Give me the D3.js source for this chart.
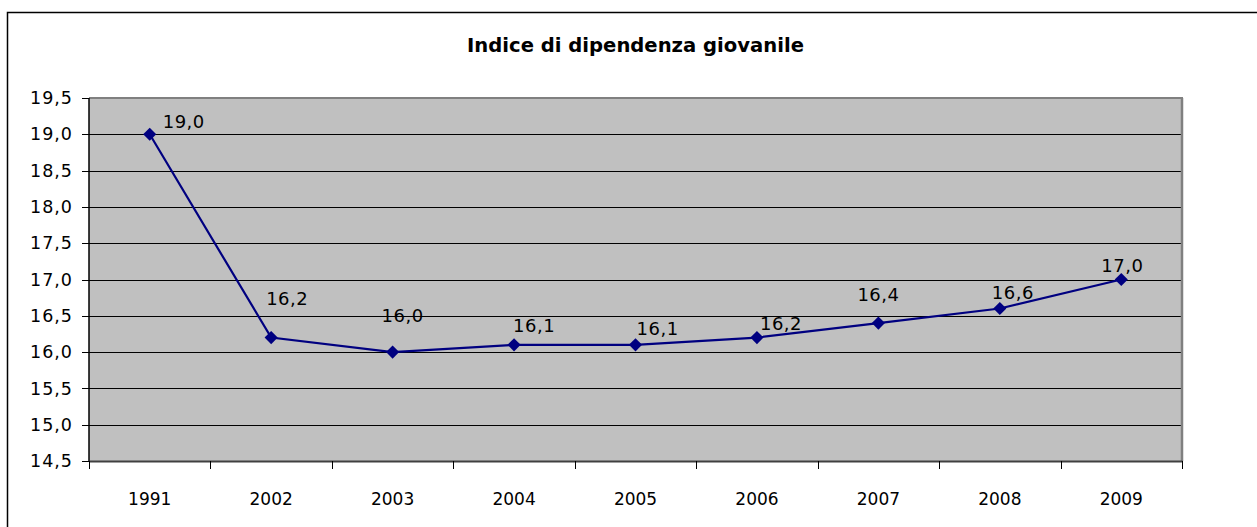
<!DOCTYPE html>
<html>
<head>
<meta charset="utf-8">
<script src="https://cdn.jsdelivr.net/npm/d3@7"></script>
<style>
  html, body { margin: 0; padding: 0; background: #fff; }
  svg { display: block; font-family: 'DejaVu Sans', sans-serif; }
</style>
</head>
<body>
<svg></svg>
<script>
// categories and values
const years = ['1991', '2002', '2003', '2004', '2005', '2006', '2007', '2008', '2009'];
const values = [19.0, 16.2, 16.0, 16.1, 16.1, 16.2, 16.4, 16.6, 17.0];
const yTicks = [14.5, 15.0, 15.5, 16.0, 16.5, 17.0, 17.5, 18.0, 18.5, 19.0, 19.5];

// hand placed data labels (offset from the point, text start / baseline)
const labelOffsets = [[13, -6], [-5, -33], [-11, -30], [-1, -13], [1, -10], [3, -8], [-21, -22], [-8, -10], [-20, -8]];

const width = 1257;
const height = 527;
const plot = { left: 89, right: 1182, top: 98, bottom: 461 };

const fmt = (v) => d3.format('.1f')(v).replace('.', ',');

const svg = d3.select('svg')
              .attr('width', width)
              .attr('height', height);

// chart frame (runs past the right and bottom edges)
svg.append('rect')
    .attr('x', 7.5)
    .attr('y', 12.5)
    .attr('width', 1300)
    .attr('height', 600)
    .attr('fill', '#fff')
    .attr('stroke', '#000')
    .attr('stroke-width', 1.5);

const xScale = d3.scaleBand()
                 .domain(years)
                 .range([plot.left, plot.right]);

const yScale = d3.scaleLinear()
                 .domain([14.5, 19.5])
                 .range([plot.bottom, plot.top]);

// plot area
svg.append('rect')
    .attr('x', plot.left)
    .attr('y', plot.top)
    .attr('width', plot.right - plot.left)
    .attr('height', plot.bottom - plot.top)
    .attr('fill', '#c0c0c0');

const yAxis = d3.axisLeft(yScale)
                .tickValues(yTicks)
                .tickFormat(fmt)
                .tickSizeInner(-(plot.right - plot.left))
                .tickSizeOuter(0)
                .tickPadding(10);

const gy = svg.append('g')
    .attr('transform', `translate(${plot.left}, 0)`)
    .call(yAxis);

gy.select('.domain').remove();
gy.selectAll('.tick line')
    .attr('stroke', '#000')
    .attr('x1', -7)
    .attr('shape-rendering', 'crispEdges');
gy.selectAll('.tick text')
    .attr('x', -16)
    .style('font-size', '17.5px')
    .style('letter-spacing', '1px')
    .style('font-family', 'DejaVu Sans, sans-serif')
    .attr('fill', '#000');

// plot border: gray top/right, dark left/bottom
svg.append('line')
    .attr('x1', plot.left).attr('x2', plot.right + 1)
    .attr('y1', plot.top).attr('y2', plot.top)
    .attr('stroke', '#808080').attr('stroke-width', 2);
svg.append('line')
    .attr('x1', plot.right).attr('x2', plot.right)
    .attr('y1', plot.top).attr('y2', plot.bottom)
    .attr('stroke', '#808080').attr('stroke-width', 2.5);
svg.append('line')
    .attr('x1', plot.left).attr('x2', plot.left)
    .attr('y1', plot.top).attr('y2', plot.bottom)
    .attr('stroke', '#000').attr('stroke-width', 1.5);

const xAxis = d3.axisBottom(xScale)
                .tickSize(0)
                .tickPadding(32);

const gx = svg.append('g')
    .attr('transform', `translate(0, ${plot.bottom})`)
    .call(xAxis);

gx.select('.domain')
    .attr('stroke', '#404040')
    .attr('stroke-width', 2);
gx.selectAll('.tick text')
    .style('font-size', '17px')
    .style('font-family', 'DejaVu Sans, sans-serif')
    .attr('fill', '#000');

// category boundary ticks
const boundaries = years.map((d) => xScale(d)).concat([xScale.range()[1]]);
svg.append('g')
  .selectAll('line')
  .data(boundaries)
  .enter()
  .append('line')
    .attr('x1', (d) => Math.round(d) + 0.5)
    .attr('x2', (d) => Math.round(d) + 0.5)
    .attr('y1', plot.bottom)
    .attr('y2', plot.bottom + 8)
    .attr('stroke', '#000');

const cx = (d, i) => xScale(years[i]) + xScale.bandwidth() / 2;

const line = d3.line()
               .x((d, i) => cx(d, i))
               .y((d) => yScale(d));

svg.append('path')
    .datum(values)
    .attr('d', line)
    .attr('fill', 'none')
    .attr('stroke', '#000080')
    .attr('stroke-width', 2.2);

const diamond = d3.symbol().type(d3.symbolDiamond2).size(110);

svg.selectAll('.marker')
  .data(values)
  .enter()
  .append('path')
    .attr('class', 'marker')
    .attr('d', diamond)
    .attr('transform', (d, i) => `translate(${cx(d, i)}, ${yScale(d)})`)
    .attr('fill', '#000080');

svg.selectAll('.label')
  .data(values)
  .enter()
  .append('text')
    .attr('class', 'label')
    .text(fmt)
    .attr('x', (d, i) => cx(d, i) + labelOffsets[i][0])
    .attr('y', (d, i) => yScale(d) + labelOffsets[i][1])
    .style('font-size', '18px')
    .style('letter-spacing', '0.5px')
    .attr('fill', '#000');

svg.append('text')
    .text('Indice di dipendenza giovanile')
    .attr('x', (plot.left + plot.right) / 2)
    .attr('y', 52)
    .style('text-anchor', 'middle')
    .style('font-size', '19.6px')
    .style('font-weight', 'bold')
    .attr('fill', '#000');
</script>
</body>
</html>
